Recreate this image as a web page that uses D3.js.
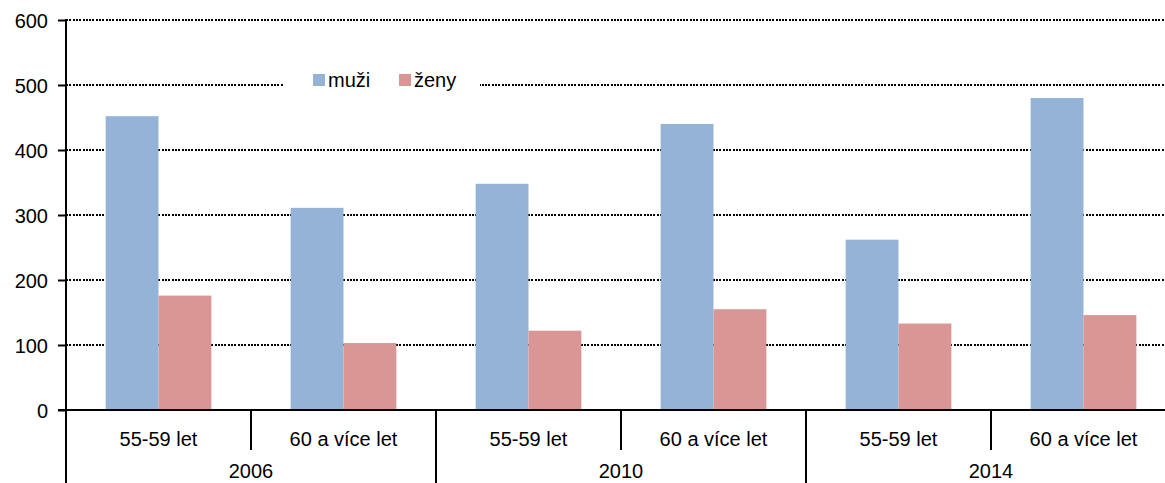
<!DOCTYPE html>
<html><head><meta charset="utf-8">
<script src="https://cdn.jsdelivr.net/npm/d3@7"></script>
<style>
html,body{margin:0;padding:0;background:#fff;overflow:hidden}
svg{display:block;font-family:"Liberation Sans",Arial,sans-serif}
</style></head>
<body>
<script>
const years = ["2006", "2010", "2014"];
const ageGroups = ["55-59 let", "60 a více let"];
const seriesNames = ["muži", "ženy"];
const muzi = [452, 311, 348, 440, 262, 480];
const zeny = [176, 103, 122, 155, 133, 146];
const yTicks = [0, 100, 200, 300, 400, 500, 600];

(function () {
const W = 1165, H = 483;
const mLeft = 66, mRight = 1176, mTop = 20, mBottom = 410;
const colors = ["#95B3D7", "#D99694"];

const cats = [];
years.forEach(yr => ageGroups.forEach(a => cats.push({year: yr, age: a, key: yr + "|" + a})));
const data = cats.map((c, i) => ({...c, values: [muzi[i], zeny[i]]}));

const svg = d3.select("body").append("svg").attr("width", W).attr("height", H);

const x0 = d3.scaleBand().domain(cats.map(c => c.key)).range([mLeft, mRight]).padding(0);
const x1 = d3.scaleBand().domain(seriesNames).range([0, x0.bandwidth()]).paddingInner(0).paddingOuter(0.75);
const y = d3.scaleLinear().domain([0, 600]).range([mBottom, mTop]);

// gridlines
svg.append("g").selectAll("line").data(yTicks.filter(t => t > 0)).join("line")
  .attr("x1", mLeft).attr("x2", W).attr("y1", d => y(d)).attr("y2", d => y(d))
  .attr("stroke", "#000").attr("stroke-width", 1.3).attr("stroke-dasharray", "2,1.3")
  .attr("shape-rendering", "crispEdges");

// legend background
const lg = svg.append("g");
lg.append("rect").attr("x", 284).attr("y", 70).attr("width", 196).attr("height", 26).attr("fill", "#fff");

// bars
const g = svg.append("g").selectAll("g").data(data).join("g")
  .attr("transform", d => `translate(${x0(d.key)},0)`);
g.selectAll("rect").data(d => d.values.map((v, i) => ({s: seriesNames[i], v, i}))).join("rect")
  .attr("x", d => x1(d.s)).attr("width", x1.bandwidth())
  .attr("y", d => y(d.v)).attr("height", d => y(0) - y(d.v))
  .attr("fill", d => colors[d.i]);

// y axis
const yAxis = d3.axisLeft(y).tickValues(yTicks).tickSize(8).tickPadding(10);
const ya = svg.append("g").attr("transform", `translate(${mLeft},0)`).call(yAxis);
ya.select(".domain").remove();
ya.selectAll(".tick line").attr("stroke", "#000").attr("stroke-width", 2);
ya.selectAll(".tick text").attr("font-size", 20).attr("fill", "#000")
  .attr("font-family", "Liberation Sans, Arial, sans-serif").attr("dy", "0.35em");
svg.append("line").attr("x1", mLeft).attr("x2", mLeft).attr("y1", mTop - 1).attr("y2", H)
  .attr("stroke", "#000").attr("stroke-width", 2);

// x axis baseline
svg.append("line").attr("x1", mLeft - 8).attr("x2", W).attr("y1", mBottom).attr("y2", mBottom)
  .attr("stroke", "#000").attr("stroke-width", 2);

// category separators
cats.forEach((c, i) => {
  if (i === 0) return;
  const xx = x0(c.key);
  const isGroup = i % ageGroups.length === 0;
  svg.append("line").attr("x1", xx).attr("x2", xx).attr("y1", mBottom)
    .attr("y2", isGroup ? H : mBottom + 40).attr("stroke", "#000").attr("stroke-width", 2);
});

// category labels
svg.append("g").selectAll("text").data(cats).join("text")
  .attr("x", d => x0(d.key) + x0.bandwidth() / 2).attr("y", 446)
  .attr("text-anchor", "middle").attr("font-size", 20).attr("fill", "#000")
  .text(d => d.age);

// year labels
svg.append("g").selectAll("text").data(years).join("text")
  .attr("x", d => x0(d + "|" + ageGroups[0]) + x0.bandwidth())
  .attr("y", 478).attr("text-anchor", "middle").attr("font-size", 20).attr("fill", "#000")
  .text(d => d);

// legend
const legendItems = [{n: seriesNames[0], x: 313, c: colors[0]}, {n: seriesNames[1], x: 399, c: colors[1]}];
legendItems.forEach(it => {
  lg.append("rect").attr("x", it.x).attr("y", 74).attr("width", 12).attr("height", 12).attr("fill", it.c);
  lg.append("text").attr("x", it.x + 15).attr("y", 87).attr("font-size", 20).attr("fill", "#000").text(it.n);
});
})();
</script>
</body></html>
